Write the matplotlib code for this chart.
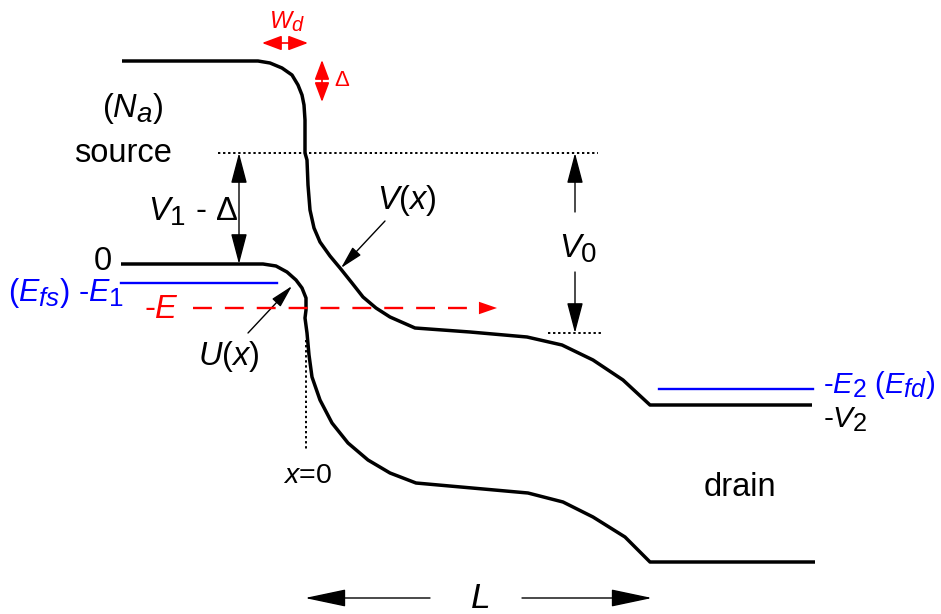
import matplotlib
matplotlib.use("Agg")
import matplotlib.pyplot as plt
from matplotlib.patches import FancyArrowPatch
import matplotlib._mathtext as _mt

# slightly larger sub/superscripts, closer to the reference's look
_mt.SHRINK_FACTOR = 0.85

plt.rcParams['font.family'] = ['Liberation Sans', 'DejaVu Sans']
plt.rcParams['mathtext.fontset'] = 'custom'
plt.rcParams['mathtext.rm'] = 'Liberation Sans'
plt.rcParams['mathtext.it'] = 'Liberation Sans:italic'
plt.rcParams['mathtext.bf'] = 'Liberation Sans:bold'

# ---- diagram data (pixel-like coordinates, y downward) ----
# conduction band edge V(x)
v_x = [122, 258, 270, 282, 292, 298, 302, 304, 305, 305, 307, 308, 310, 314, 320, 330, 340, 352,
       363, 376, 390, 415, 470, 527, 562, 593, 623, 650, 812]
v_y = [61, 61, 63, 68, 75, 85, 95, 105, 120, 153, 160, 185, 210, 228, 242, 256, 268, 283,
       297, 308, 317, 328, 332, 337, 345, 360, 380, 405, 405]
# valence / U(x) curve
u_x = [121, 263, 276, 287, 296, 302, 306, 306, 305, 307, 309, 312, 320, 332, 348, 368, 390,
       416, 472, 528, 563, 593, 625, 650, 815]
u_y = [264, 264, 266, 272, 280, 288, 298, 310, 318, 333, 355, 377, 400, 423, 443, 460, 473,
       483, 488, 493, 502, 517, 537, 562, 562]
# Fermi levels
efs_x, efs_y = [121, 277], [283, 283]
efd_x, efd_y = [659, 813], [389, 389]
# energy -E
e_x, e_y = [193, 497], [308, 308]

FS = 23.5
BLUE = '#0000ff'
RED = '#ff0000'

fig = plt.figure(figsize=(9.41, 6.14), dpi=100)
ax = fig.add_axes([0, 0, 1, 1])
ax.set_xlim(0, 941)
ax.set_ylim(614, 0)
ax.axis('off')

ax.plot(v_x, v_y, color='black', lw=2.5, solid_joinstyle='round', solid_capstyle='butt')
ax.plot(u_x, u_y, color='black', lw=2.5, solid_joinstyle='round', solid_capstyle='butt')
ax.plot(efs_x, efs_y, color=BLUE, lw=1.7)
ax.plot(efd_x, efd_y, color=BLUE, lw=1.7)

# dashed red energy line with arrowhead
ax.plot([e_x[0], e_x[1] - 14], e_y, color=RED, lw=1.7, dashes=(8, 5.5))
ax.add_patch(FancyArrowPatch((e_x[1] - 20, e_y[0]), (e_x[1], e_y[0]),
                             arrowstyle='-|>,head_length=1.3,head_width=0.45',
                             mutation_scale=10, color=RED, lw=0, shrinkA=0, shrinkB=0))

# dotted reference lines
dot = dict(color='black', lw=1.4, dashes=(1.2, 1.4))
ax.plot([218, 598], [153, 153], **dot)
ax.plot([548, 602], [333, 333], **dot)
ax.plot([306, 306], [340, 450], **dot)


def arrow(p0, p1, style='-|>', color='black', lw=1.0, hl=1.9, hw=0.5, ms=10):
    ax.add_patch(FancyArrowPatch(p0, p1,
                                 arrowstyle=f'{style},head_length={hl},head_width={hw}',
                                 mutation_scale=ms, color=color, lw=lw,
                                 shrinkA=0, shrinkB=0))


# V1 - Delta double arrow
arrow((239, 264), (239, 153), style='<|-|>')
# V0 arrows
arrow((575, 212), (575, 153))
arrow((575, 272), (575, 333))
# W_d and Delta small red arrows
arrow((262, 43), (308, 43), style='<|-|>', color=RED, lw=1.2, hl=1.2, hw=0.45)
arrow((322, 60), (322, 102), style='<|-|>', color=RED, lw=1.2, hl=1.2, hw=0.45)
# L arrows
arrow((430, 598), (305, 598), hl=2.6, hw=0.55)
arrow((522, 598), (652, 598), hl=2.6, hw=0.55)
# pointer arrows
arrow((248, 333), (292, 286), hl=1.4, hw=0.35)
arrow((385, 221), (341, 268), hl=1.4, hw=0.35)

# labels
ax.text(133, 108, r'($\mathit{N_a}$)', fontsize=FS, ha='center', va='center')
ax.text(123, 153, 'source', fontsize=FS, ha='center', va='center')
ax.text(112, 261, '0', fontsize=FS, ha='right', va='center')
ax.text(8, 293, r'($E_{fs}$) -$E_1$', fontsize=FS - 1.5, color=BLUE, ha='left', va='center')
ax.text(161, 310, r'-$E$', fontsize=FS, color=RED, ha='center', va='center')
ax.text(229, 357, r'$U$($x$)', fontsize=FS, ha='center', va='center')
ax.text(407, 200, r'$V$($x$)', fontsize=FS, ha='center', va='center')
ax.text(578, 249, r'$V_0$', fontsize=FS, ha='center', va='center')
ax.text(193, 212, r'$V_1$ - Δ', fontsize=FS, ha='center', va='center')
ax.text(287, 22, r'$W_d$', fontsize=17, color=RED, ha='center', va='center')
ax.text(342, 80, 'Δ', fontsize=16, color=RED, ha='center', va='center')
ax.text(823, 385, r'-$E_2$ ($E_{fd}$)', fontsize=FS - 2.5, color=BLUE, ha='left', va='center')
ax.text(823, 420, r'-$V_2$', fontsize=FS - 2, ha='left', va='center')
ax.text(740, 487, 'drain', fontsize=FS, ha='center', va='center')
ax.text(307, 476, r'$x$=0', fontsize=FS - 3, ha='center', va='center')
ax.text(480, 598, r'$L$', fontsize=FS + 2, ha='center', va='center')

fig.savefig('out.png', dpi=100)
